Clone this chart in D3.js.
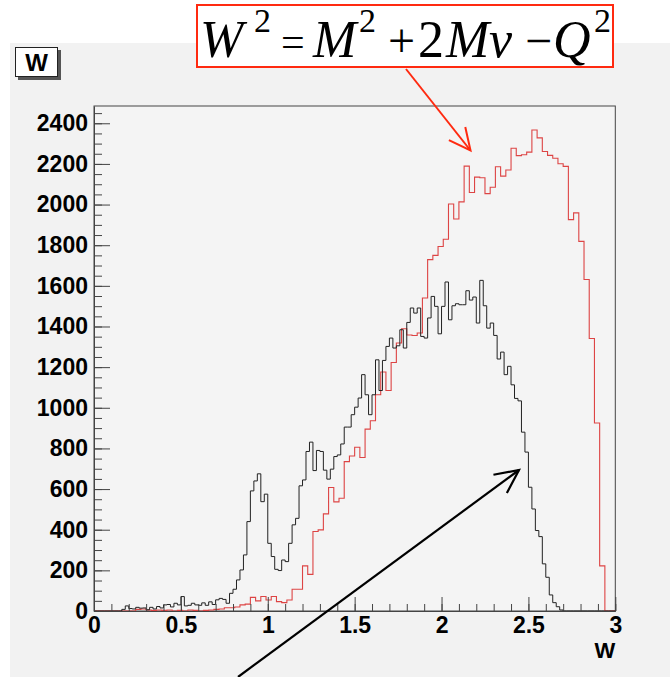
<!DOCTYPE html>
<html>
<head>
<meta charset="utf-8">
<script src="https://d3js.org/d3.v7.min.js"></script>
<style>
  body { margin: 0; background: #fff; }
  .tick text { font-family: "Liberation Sans", Arial, sans-serif; font-weight: bold; font-size: 23px; fill: #000; }
</style>
</head>
<body>
<div id="chart"></div>
<script>
// W distribution, 150 bins of 0.02 on [0,3] (black)
const blackCounts = [
  0, 0, 0, 0, 0, 0, 0, 0,
  8, 25, 12, 10, 18, 14, 15, 6, 18, 10, 22, 15, 30, 32, 20, 38, 30, 71, 25, 28, 38, 30, 28, 40, 28, 45, 32, 55,
  62, 57, 38, 87, 107, 153, 202, 276, 440, 591, 640, 675,
  538, 575, 333, 268, 205, 199, 251, 243, 333, 424, 456, 616, 645, 785, 831, 691, 790, 785, 693, 649, 698, 760, 768,
  822, 905, 905, 966, 1003, 1048, 1163, 1064, 966, 1064, 1236, 1085, 1233, 1302, 1343, 1294, 1305, 1384, 1294,
  1420, 1491, 1466, 1491, 1351, 1343, 1442, 1548, 1499, 1364, 1499, 1619, 1433, 1502, 1512, 1507, 1507, 1576, 1530,
  1545, 1417, 1627, 1502, 1392, 1417, 1356, 1240, 1274, 1163, 1204, 1113, 1046, 1034, 880, 782, 609, 502, 396, 366,
  232, 166, 79, 41, 21, 5,
  0, 0, 0, 0, 0, 0, 0, 0, 0, 0, 0, 0, 0, 0, 0
];
// W from W^2 = M^2 + 2M nu - Q^2, 100 bins of 0.03 on [0,3] (red)
const redCounts = [
  0, 0, 0, 0, 0, 0, 0, 0,
  8, 10, 5, 3, 5, 3, 5, 0, 3, 0, 5, 3, 0, 3, 5,
  8, 10, 16, 16, 20, 30, 34, 67, 50, 71, 54, 71, 46, 41, 54, 107, 107,
  222, 180, 391, 399, 478, 608, 537, 555, 735, 763, 806, 755, 895, 936, 1064, 1176, 1085, 1223, 1319, 1389,
  1358, 1356, 1368, 1540, 1729, 1750, 1794, 1829, 2003, 1929, 2013, 2189, 2059, 2135, 2132, 2054, 2085, 2186, 2140, 2170,
  2277, 2241, 2245, 2258, 2367, 2328, 2261, 2242, 2228, 2201, 2188, 1926, 1959, 1819, 1631, 1341, 925, 222, 0, 0
];
const xRange = [0, 3];
const xMajorTicks = [0, 0.5, 1, 1.5, 2, 2.5, 3];
const xTickLabels = ["0", "0.5", "1", "1.5", "2", "2.5", "3"];
const yMajorTicks = [0, 200, 400, 600, 800, 1000, 1200, 1400, 1600, 1800, 2000, 2200, 2400];
const yMax = 2485;

const width = 670, height = 677;
const frame = { left: 94, right: 615.3, top: 106, bottom: 611 };

const svg = d3.select('#chart').append('svg')
  .attr('width', width).attr('height', height)
  .attr('viewBox', [0, 0, width, height]);

// pad
svg.append('rect').attr('x', 10).attr('y', 43).attr('width', width - 10).attr('height', height - 43)
  .attr('fill', '#f2f2f2');

const x = d3.scaleLinear().domain(xRange).range([frame.left, frame.right]);
const y = d3.scaleLinear().domain([0, yMax]).range([frame.bottom, frame.top]);

// frame
svg.append('rect')
  .attr('x', frame.left).attr('y', frame.top)
  .attr('width', frame.right - frame.left).attr('height', frame.bottom - frame.top)
  .attr('fill', '#f4f4f4').attr('stroke', '#444').attr('stroke-width', 1);

function stepPoints(counts) {
  const w = (xRange[1] - xRange[0]) / counts.length;
  const pts = [[xRange[0], 0]];
  counts.forEach((c, i) => {
    pts.push([xRange[0] + i * w, c]);
    pts.push([xRange[0] + (i + 1) * w, c]);
  });
  pts.push([xRange[1], 0]);
  return pts;
}
const line = d3.line().x(d => x(d[0])).y(d => y(d[1]));

svg.append('path').attr('d', line(stepPoints(redCounts)))
  .attr('fill', 'none').attr('stroke', '#dd4444').attr('stroke-width', 1.1);
svg.append('path').attr('d', line(stepPoints(blackCounts)))
  .attr('fill', 'none').attr('stroke', '#222').attr('stroke-width', 1);

// axes, ticks inside the frame
const yMinor = d3.range(0, yMax, 50);
svg.append('g').attr('transform', `translate(${frame.left},0)`)
  .call(d3.axisLeft(y).tickValues(yMinor).tickSize(-8).tickSizeOuter(0).tickFormat(''))
  .call(g => g.selectAll('line').attr('stroke', '#444'))
  .call(g => g.select('.domain').attr('stroke', '#444'));
svg.append('g').attr('transform', `translate(${frame.left},0)`)
  .call(d3.axisLeft(y).tickValues(yMajorTicks).tickSize(-16).tickSizeOuter(0).tickPadding(6)
    .tickFormat(d3.format('d')))
  .call(g => g.selectAll('line').attr('stroke', '#444'))
  .call(g => g.select('.domain').remove());

const xMinor = d3.range(0, 3.0001, 0.1);
svg.append('g').attr('transform', `translate(0,${frame.bottom})`)
  .call(d3.axisBottom(x).tickValues(xMinor).tickSize(-7).tickSizeOuter(0).tickFormat(''))
  .call(g => g.selectAll('line').attr('stroke', '#444'))
  .call(g => g.select('.domain').attr('stroke', '#444'));
svg.append('g').attr('transform', `translate(0,${frame.bottom})`)
  .call(d3.axisBottom(x).tickValues(xMajorTicks).tickSize(-14).tickSizeOuter(0).tickPadding(6)
    .tickFormat((d, i) => xTickLabels[i]))
  .call(g => g.selectAll('line').attr('stroke', '#444'))
  .call(g => g.select('.domain').remove());

// x axis title
svg.append('text').attr('x', frame.right).attr('y', 658)
  .attr('text-anchor', 'end')
  .style('font-family', '"Liberation Sans", Arial, sans-serif')
  .style('font-weight', 'bold').style('font-size', '22px')
  .text('W');

// histogram title box
svg.append('rect').attr('x', 18).attr('y', 50).attr('width', 43).attr('height', 30).attr('fill', '#555');
svg.append('rect').attr('x', 15.5).attr('y', 47.5).attr('width', 42).attr('height', 29)
  .attr('fill', '#fff').attr('stroke', '#222').attr('stroke-width', 1);
svg.append('text').attr('x', 36.5).attr('y', 71)
  .attr('text-anchor', 'middle')
  .style('font-family', '"Liberation Sans", Arial, sans-serif')
  .style('font-weight', 'bold').style('font-size', '24px')
  .text('W');

// formula box
svg.append('rect').attr('x', 197).attr('y', 5).attr('width', 416).attr('height', 62)
  .attr('fill', '#fff').attr('stroke', '#ff2a10').attr('stroke-width', 2);
const formula = svg.append('text')
  .style('font-family', '"Liberation Serif", "Times New Roman", serif')
  .style('font-size', '52px').attr('fill', '#000');
const parts = [
  { t: 'W', x: 200, y: 57, it: true },
  { t: '2', x: 254, y: 32, s: 34 },
  { t: '=', x: 281, y: 56, s: 42 },
  { t: 'M', x: 313, y: 57, it: true },
  { t: '2', x: 359, y: 32, s: 34 },
  { t: '+', x: 388, y: 57, s: 48 },
  { t: '2', x: 418, y: 57 },
  { t: 'M', x: 446, y: 57, it: true },
  { t: 'ν', x: 489, y: 57, it: true },
  { t: '−', x: 525, y: 57, s: 48 },
  { t: 'Q', x: 553, y: 57, it: true },
  { t: '2', x: 594, y: 32, s: 34 }
];
parts.forEach(p => {
  formula.append('tspan').attr('x', p.x).attr('y', p.y)
    .style('font-style', p.it ? 'italic' : 'normal')
    .style('font-size', (p.s || 52) + 'px')
    .text(p.t);
});

// arrows
function arrow(x1, y1, x2, y2, color, w, head) {
  const a = Math.atan2(y2 - y1, x2 - x1);
  svg.append('line').attr('x1', x1).attr('y1', y1).attr('x2', x2).attr('y2', y2)
    .attr('stroke', color).attr('stroke-width', w);
  const spread = 0.45;
  const p = [
    [x2 - head * Math.cos(a - spread), y2 - head * Math.sin(a - spread)],
    [x2, y2],
    [x2 - head * Math.cos(a + spread), y2 - head * Math.sin(a + spread)]
  ];
  svg.append('path').attr('d', d3.line()(p))
    .attr('fill', 'none').attr('stroke', color).attr('stroke-width', w)
    .attr('stroke-linejoin', 'miter');
}
arrow(406, 69, 470.5, 150.5, '#ff2a10', 2, 24);
arrow(238, 677, 519, 470, '#000', 2.2, 26);
</script>
</body>
</html>
